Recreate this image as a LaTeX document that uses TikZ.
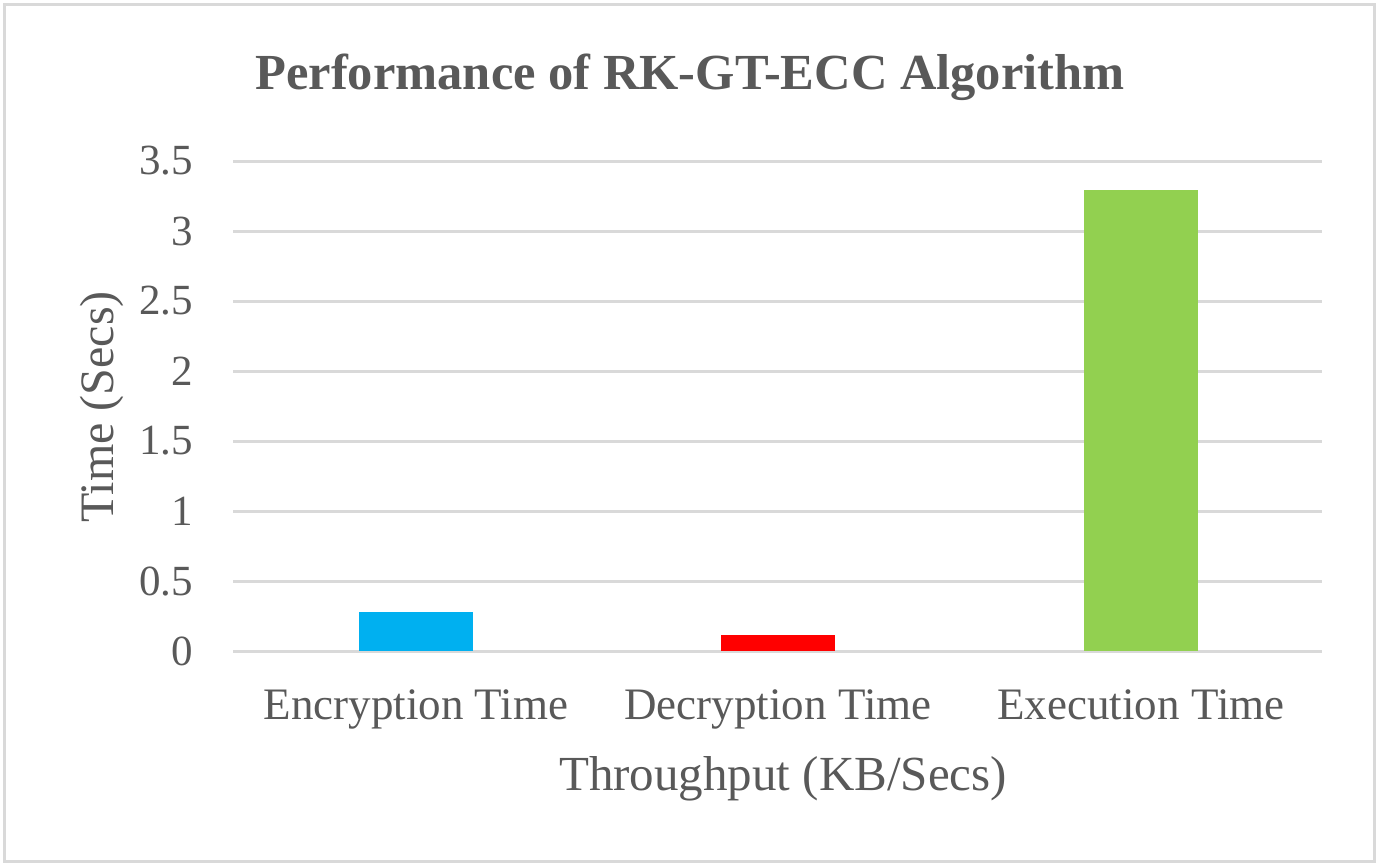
\documentclass[tikz,border=0pt]{standalone}
\usepackage{fontspec}
\setmainfont{Liberation Serif}
\definecolor{txt}{HTML}{595959}
\definecolor{grid}{HTML}{D9D9D9}
\definecolor{frame}{HTML}{D9D9D9}
\definecolor{encC}{HTML}{00B0F0}
\definecolor{decC}{HTML}{FF0000}
\definecolor{exeC}{HTML}{92D050}
\begin{document}
\begin{tikzpicture}[x=1pt,y=-1pt,
  gridline/.style={draw=grid,line width=3pt},
  tick/.style={text=txt,anchor=east,font=\fontsize{43}{43}\selectfont,inner sep=0pt},
  cat/.style={text=txt,anchor=base,font=\fontsize{45}{45}\selectfont,inner sep=0pt},
  bar/.style={draw=none}]
\useasboundingbox (0,0) rectangle (1377,865);
\fill[white] (0,0) rectangle (1377,865);
\draw[frame,line width=3pt] (4,4) rectangle (1374,861);
% title
\node[text=txt,anchor=base,font=\bfseries\fontsize{50.5}{50.5}\selectfont,inner sep=0pt] (title) at (690,89) {Performance of RK-GT-ECC Algorithm};
% grid
\foreach \v/\l in {0/0,1/0.5,2/1,3/1.5,4/2,5/2.5,6/3,7/3.5}{
  \pgfmathsetmacro{\yy}{651-70*\v}
  \draw[gridline] (233,\yy) -- (1322,\yy);
  \node[tick] (t\v) at (193,\yy) {\l};
}
% bars
\fill[encC] (359,651) rectangle (473,612);
\fill[decC] (721,651) rectangle (835,635);
\fill[exeC] (1084,651) rectangle (1198,190);
% category labels
\node[cat] (c1) at (416,719) {Encryption Time};
\node[cat] (c2) at (778,719) {Decryption Time};
\node[cat] (c3) at (1141,719) {Execution Time};
% axis titles
\node[text=txt,anchor=base,font=\fontsize{49}{49}\selectfont,inner sep=0pt] (xt) at (783,790) {Throughput (KB/Secs)};
\node[text=txt,anchor=base,rotate=90,font=\fontsize{48}{48}\selectfont,inner sep=0pt] (yt) at (113,407) {Time (Secs)};
\end{tikzpicture}
\end{document}
